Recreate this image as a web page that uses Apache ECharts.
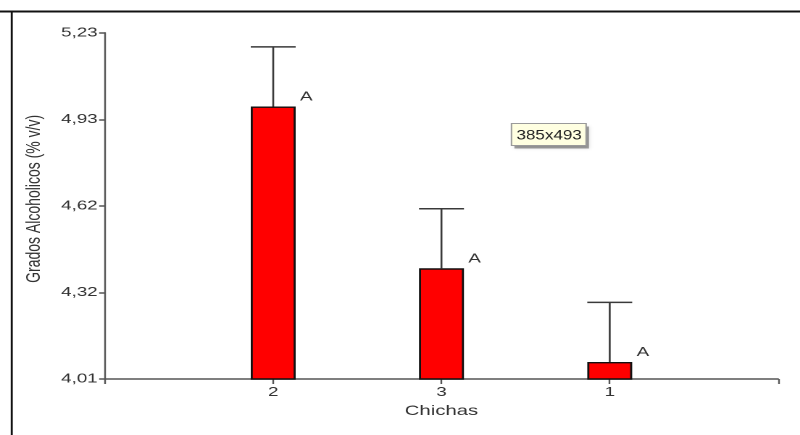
<!DOCTYPE html>
<html>
<head>
<meta charset="utf-8">
<script src="https://cdn.jsdelivr.net/npm/echarts@6/dist/echarts.min.js"></script>
<style>
  html, body { margin: 0; padding: 0; background: #fff; overflow: hidden; }
  #wrap { width: 800px; height: 435px; overflow: hidden; position: relative; }
  /* the chart is laid out narrow and widened horizontally */
  #chart { width: 552px; height: 435px; transform: scaleX(1.4493); transform-origin: 0 0; }
</style>
</head>
<body>
<div id="wrap"><div id="chart"></div></div>
<script>
// Chicha samples, in plotting order
const chichas = ['2', '3', '1'];
// Mean alcohol content (% v/v)
const means = [4.97, 4.40, 4.07];
// Upper error (standard error)
const errors = [0.21, 0.21, 0.21];
// Significance group letters
const letters = ['A', 'A', 'A'];
// Y axis ticks and their printed labels
const yTicks = [4.01, 4.315, 4.62, 4.925, 5.23];
const yTickLabels = ['4,01', '4,32', '4,62', '4,93', '5,23'];

const axisColor = '#555';
const textColor = '#333';
const barWidth = 31;

// blank slots at both ends give the axis its leading and trailing gap
const xCategories = [''].concat(chichas, ['']);
const barData = ['-'].concat(means, ['-']);
const errData = means.map((m, i) => [i + 1, m, errors[i]]);

const chart = echarts.init(document.getElementById('chart'), null, { renderer: 'canvas', devicePixelRatio: 2 });

chart.setOption({
  animation: false,
  backgroundColor: '#fff',
  grid: { left: 72.4, right: 15.2, top: 32.7, bottom: 56, containLabel: false },
  xAxis: {
    type: 'category',
    data: xCategories,
    boundaryGap: false,
    name: 'Chichas',
    nameLocation: 'middle',
    nameGap: 22,
    nameTextStyle: { fontFamily: 'Liberation Sans', fontSize: 14, color: textColor },
    axisLine: { lineStyle: { color: axisColor, width: 1.5 } },
    axisTick: { show: true, interval: 0, length: 5, lineStyle: { color: axisColor, width: 1.2 } },
    axisLabel: { interval: 0, margin: 7, fontFamily: 'Liberation Sans', fontSize: 13, color: textColor },
    splitLine: { show: false }
  },
  yAxis: {
    type: 'value',
    min: 4.01,
    max: 5.23,
    name: 'Grados Alcoholicos (% v/v)',
    nameLocation: 'middle',
    nameRotate: 90,
    nameGap: 42,
    nameTextStyle: { fontFamily: 'Liberation Sans', fontSize: 14, color: textColor, padding: [0, 0, 0, 14] },
    axisLine: { show: true, lineStyle: { color: axisColor, width: 1.2 } },
    axisTick: { show: true, length: 4, customValues: yTicks, lineStyle: { color: axisColor, width: 1.5 } },
    axisLabel: {
      customValues: yTicks,
      margin: 5,
      fontFamily: 'Liberation Sans',
      fontSize: 13,
      color: textColor,
      formatter: (v) => {
        const k = yTicks.findIndex(t => Math.abs(t - v) < 1e-6);
        return k >= 0 ? yTickLabels[k] : '';
      }
    },
    splitLine: { show: false }
  },
  series: [
    {
      type: 'custom',
      z: 1,
      data: errData,
      encode: { x: 0, y: 1 },
      renderItem: (params, api) => {
        const x = api.value(0), m = api.value(1), e = api.value(2);
        const p0 = api.coord([x, m]);
        const p1 = api.coord([x, m + e]);
        const hw = barWidth / 2;
        const st = { stroke: '#3a3a3a', lineWidth: 1.5 };
        return {
          type: 'group',
          children: [
            { type: 'line', shape: { x1: p0[0], y1: p0[1], x2: p1[0], y2: p1[1] }, style: Object.assign({}, st, { lineWidth: 1.3 }) },
            { type: 'line', shape: { x1: p1[0] - hw, y1: p1[1], x2: p1[0] + hw, y2: p1[1] }, style: st }
          ]
        };
      }
    },
    {
      type: 'bar',
      z: 2,
      data: barData,
      barWidth: barWidth,
      itemStyle: { color: '#ff0000', borderColor: '#111', borderWidth: 1.4 },
      label: {
        show: true,
        position: ['100%', 0],
        align: 'left',
        verticalAlign: 'bottom',
        offset: [3, -3],
        fontFamily: 'Liberation Sans',
        fontSize: 13,
        color: textColor,
        formatter: (p) => letters[p.dataIndex - 1] || ''
      }
    }
  ],
  graphic: [
    // page frame
    { type: 'rect', shape: { x: 0, y: 10.5, width: 552, height: 2 }, style: { fill: '#111' }, silent: true },
    { type: 'rect', shape: { x: 7.4, y: 10.5, width: 1.4, height: 425 }, style: { fill: '#111' }, silent: true },
    // size hint box
    {
      type: 'group', left: 352.4, top: 123, silent: true,
      children: [
        { type: 'rect', shape: { x: 2, y: 3, width: 51.5, height: 22 }, style: { fill: 'rgba(0,0,0,0.35)', shadowBlur: 3, shadowColor: 'rgba(0,0,0,0.4)' } },
        { type: 'rect', shape: { x: 0, y: 0, width: 51.5, height: 22 }, style: { fill: '#ffffe1', stroke: '#9a9a9a', lineWidth: 1 } },
        { type: 'text', x: 26, y: 12, scaleX: 0.84, style: { text: '385x493', fontFamily: 'Liberation Sans', fontSize: 14, fill: '#222', align: 'center', verticalAlign: 'middle' } }
      ]
    }
  ]
});
</script>
</body>
</html>
